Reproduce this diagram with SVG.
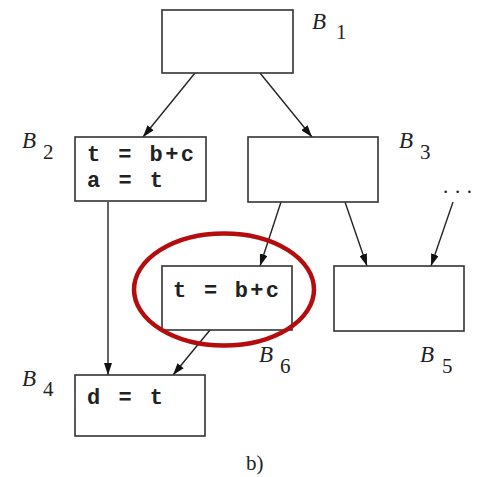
<svg xmlns="http://www.w3.org/2000/svg" width="479" height="477" viewBox="0 0 479 477">
<defs>
<marker id="ah" viewBox="0 0 12 8" refX="12" refY="4" markerWidth="12" markerHeight="8" markerUnits="userSpaceOnUse" orient="auto">
<path d="M0,0 L12,4 L0,8 Z" fill="#111"/>
</marker>
<style>
.box{fill:#fff;stroke:#333;stroke-width:1.6}
.code{font-family:"Liberation Mono",monospace;font-weight:bold;font-size:22px;fill:#222}
.lb{font-family:"Liberation Serif",serif;font-style:italic;font-size:23px;fill:#222}
.sub{font-family:"Liberation Serif",serif;font-size:21px;fill:#222}
.edge{stroke:#222;stroke-width:1.4;fill:none;marker-end:url(#ah)}
</style>
</defs>
<rect width="479" height="477" fill="#fff"/>
<g id="connectors">
<line class="edge" x1="195" y1="73" x2="143" y2="137"/>
<line class="edge" x1="260" y1="73" x2="312" y2="137"/>
<line class="edge" x1="108" y1="202" x2="108" y2="375"/>
<line class="edge" x1="281" y1="202" x2="260" y2="266"/>
<line class="edge" x1="345" y1="202" x2="367" y2="266"/>
<line class="edge" x1="453" y1="202" x2="431" y2="266"/>
<line class="edge" x1="210" y1="330" x2="173" y2="375"/>
</g>
<g id="B1">
<rect class="box" x="162" y="10" width="131" height="63"/>
<text class="lb" x="312" y="29">B</text><text class="sub" x="336" y="39">1</text>
</g>
<g id="B2">
<rect class="box" x="75" y="137" width="131" height="64"/>
<text class="code" x="87" y="161" textLength="107" lengthAdjust="spacing">t = b+c</text>
<text class="code" x="87" y="187" textLength="76" lengthAdjust="spacing">a = t</text>
<text class="lb" x="22" y="148">B</text><text class="sub" x="43" y="159">2</text>
</g>
<g id="B3">
<rect class="box" x="248" y="137" width="130" height="65"/>
<text class="lb" x="399" y="148">B</text><text class="sub" x="420" y="159">3</text>
</g>
<g id="dots">
<text class="sub" x="443" y="193" textLength="29" lengthAdjust="spacing" font-size="22">...</text>
</g>
<g id="B6">
<rect class="box" x="162" y="266" width="130" height="64"/>
<text class="code" x="173" y="297" textLength="106" lengthAdjust="spacing">t = b+c</text>
<text class="lb" x="259" y="362">B</text><text class="sub" x="280" y="373">6</text>
</g>
<g id="B5">
<rect class="box" x="334" y="266" width="130" height="65"/>
<text class="lb" x="420" y="362">B</text><text class="sub" x="442" y="373">5</text>
</g>
<g id="B4">
<rect class="box" x="75" y="375" width="130" height="61"/>
<text class="code" x="87" y="404" textLength="76" lengthAdjust="spacing">d = t</text>
<text class="lb" x="22" y="386">B</text><text class="sub" x="43" y="396">4</text>
</g>
<g id="highlight">
<ellipse cx="224" cy="289.5" rx="90" ry="56" fill="none" stroke="#b50d0d" stroke-width="4.5"/>
</g>
<text class="sub" x="246" y="470" font-size="20">b)</text>
</svg>
